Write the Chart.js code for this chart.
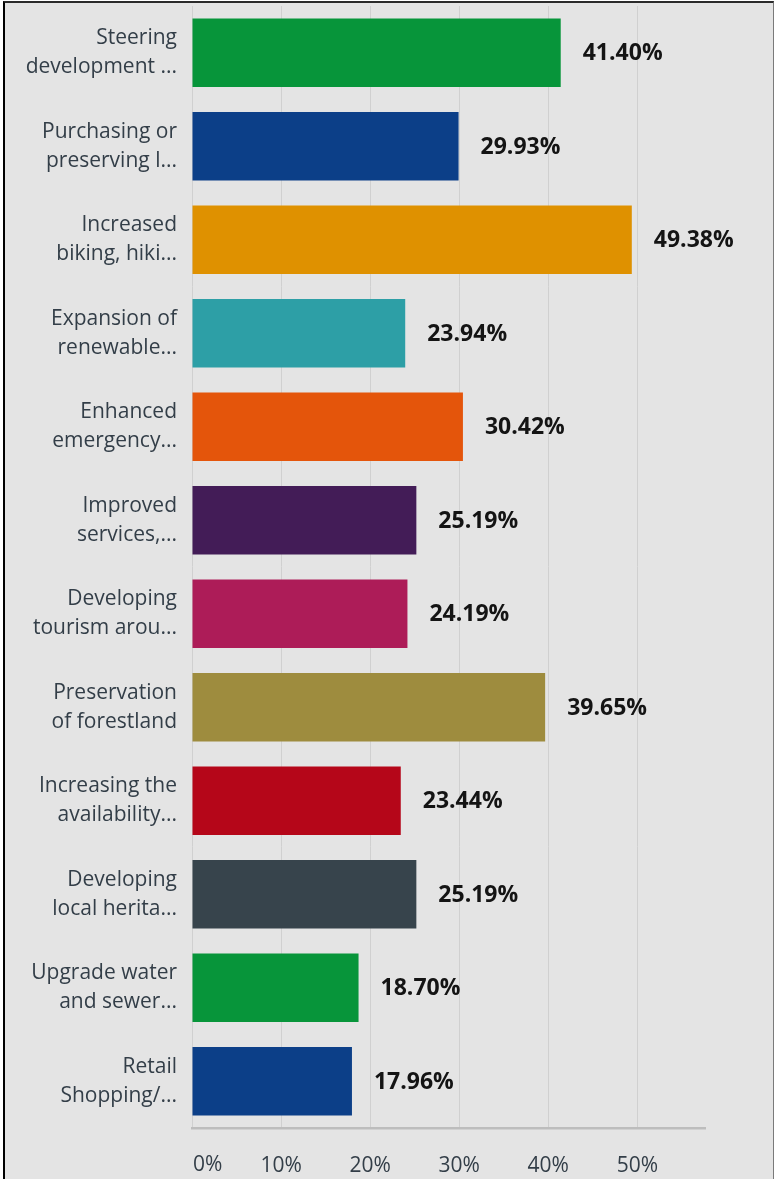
<!DOCTYPE html>
<html>
<head>
<meta charset="utf-8">
<script src="https://cdn.jsdelivr.net/npm/chart.js@4"></script>
<style>
  html, body { margin: 0; padding: 0; background: #ffffff; }
  body { width: 775px; height: 1179px; position: relative; overflow: hidden; }
  .frame {
    position: absolute; left: 3px; top: 1px; width: 768px; height: 1180px;
    background: #e4e4e4;
    border-left: 2px solid #000000;
    border-top: 2px solid #2b2b2b;
    border-right: 1px solid #7a7a7a;
  }
  #chartWrap { position: absolute; left: 0; top: 0; width: 775px; height: 1179px; }
</style>
</head>
<body>
<div class="frame"></div>
<div id="chartWrap"><canvas id="barChart"></canvas></div>
<script>
// Answer categories (truncated the way the survey tool shows them)
const categories = [
  ["Steering", "development ..."],
  ["Purchasing or", "preserving l..."],
  ["Increased", "biking, hiki..."],
  ["Expansion of", "renewable..."],
  ["Enhanced", "emergency..."],
  ["Improved", "services,..."],
  ["Developing", "tourism arou..."],
  ["Preservation", "of forestland"],
  ["Increasing the", "availability..."],
  ["Developing", "local herita..."],
  ["Upgrade water", "and sewer..."],
  ["Retail", "Shopping/..."],
];

// Share of respondents (%)
const responses = [41.40, 29.93, 49.38, 23.94, 30.42, 25.19, 24.19, 39.65, 23.44, 25.19, 18.70, 17.96];

const barColors = [
  "#07953a", "#0c3f88", "#df9100", "#2d9fa6", "#e4550b", "#431c57",
  "#ad1c58", "#9e8c3e", "#b50619", "#37444c", "#07953a", "#0c3f88",
];

const xTicks = [0, 10, 20, 30, 40, 50];

const labelFont = "'Open Sans', sans-serif";

// Percent labels to the right of each bar
const valueLabels = {
  id: "valueLabels",
  afterDatasetsDraw(chart) {
    const { ctx } = chart;
    const meta = chart.getDatasetMeta(0);
    ctx.save();
    ctx.font = "bold 23px " + labelFont;
    ctx.fillStyle = "#141414";
    ctx.textAlign = "left";
    ctx.textBaseline = "middle";
    meta.data.forEach((bar, i) => {
      ctx.fillText(responses[i].toFixed(2) + "%", bar.x + 22, bar.y + 1);
    });
    ctx.restore();
  },
};

// First x label sits flush with the axis instead of centred on it
const zeroLabel = {
  id: "zeroLabel",
  afterDraw(chart) {
    const { ctx } = chart;
    const x = chart.scales.x;
    ctx.save();
    ctx.font = "21px " + labelFont;
    ctx.fillStyle = "#333e48";
    ctx.textAlign = "left";
    ctx.textBaseline = "middle";
    ctx.fillText("0%", x.getPixelForValue(0) + 1, 1165);
    ctx.restore();
  },
};

const ctxBar = document.getElementById("barChart").getContext("2d");
new Chart(ctxBar, {
  type: "bar",
  data: {
    labels: categories,
    datasets: [
      {
        data: responses,
        backgroundColor: barColors,
        borderWidth: 0,
        barPercentage: 0.73,
        categoryPercentage: 1,
      },
    ],
  },
  options: {
    indexAxis: "y",
    responsive: true,
    maintainAspectRatio: false,
    animation: false,
    layout: { padding: { top: 6, right: 70, left: 0, bottom: 0 } },
    plugins: {
      legend: { display: false },
      tooltip: { enabled: false },
    },
    scales: {
      x: {
        min: 0,
        max: 57.6,
        afterBuildTicks: (axis) => {
          axis.ticks = xTicks.map((v) => ({ value: v }));
        },
        afterFit: (axis) => {
          axis.height = 51;
          axis.paddingLeft = 0;
          axis.paddingRight = 0;
        },
        grid: { color: "#d0d0d0", lineWidth: 1, drawTicks: false },
        border: { color: "#bdbdbd", width: 2.5 },
        ticks: {
          padding: 25,
          maxRotation: 0,
          autoSkip: false,
          color: (c) => (c.tick && c.tick.value === 0 ? "rgba(0,0,0,0)" : "#333e48"),
          font: { family: labelFont, size: 21 },
          callback: (v) => v + "%",
        },
      },
      y: {
        afterFit: (axis) => {
          axis.width = 192;
          axis.paddingTop = 0;
          axis.paddingBottom = 0;
        },
        grid: { display: false, drawTicks: false },
        border: { display: false },
        ticks: {
          padding: 15,
          color: "#333e48",
          font: { family: labelFont, size: 21, lineHeight: 1.38 },
        },
      },
    },
  },
  plugins: [valueLabels, zeroLabel],
});
</script>
</body>
</html>
